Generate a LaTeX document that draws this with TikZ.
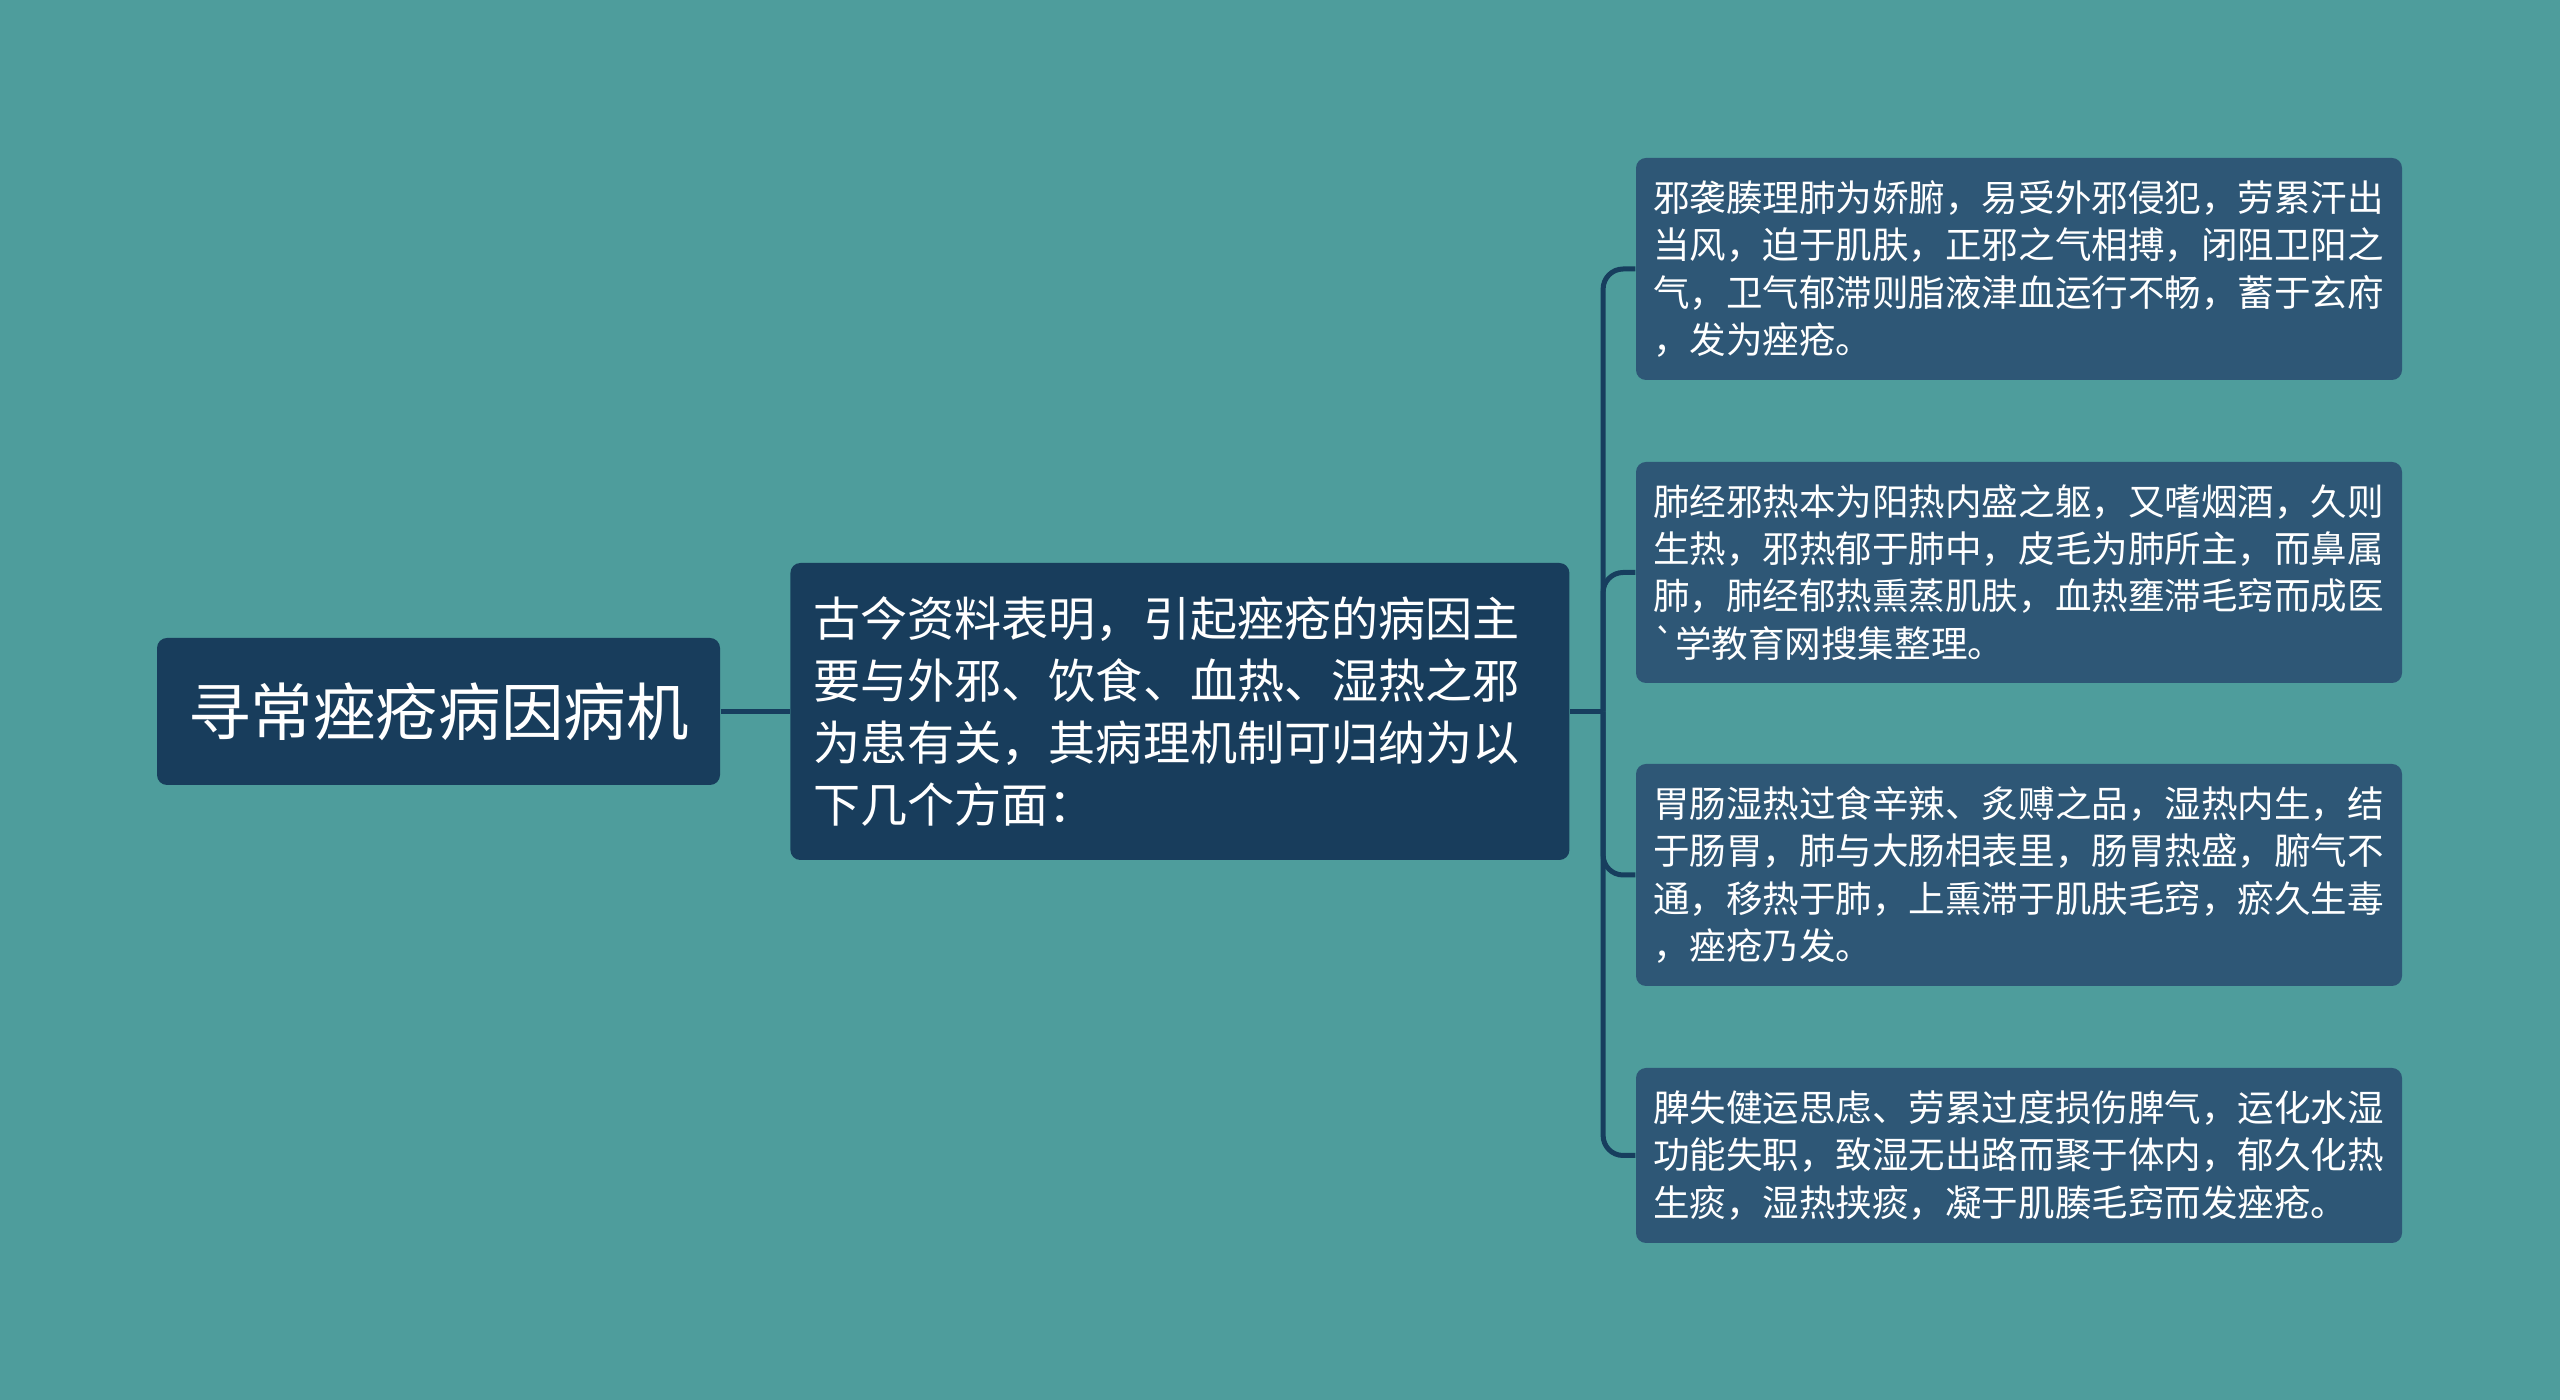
\documentclass[tikz,border=0pt]{standalone}
\usepackage{fontspec}
\setmainfont{Noto Sans CJK SC}
\usetikzlibrary{positioning}
\definecolor{bgteal}{HTML}{4E9D9C}
\definecolor{darknavy}{HTML}{183D5C}
\definecolor{leafblue}{HTML}{2E5776}
\definecolor{linenavy}{HTML}{173E5E}
\begin{document}
\begin{tikzpicture}[link/.style={draw=linenavy,line width=0.05cm},
  root node/.style={fill=darknavy,text=white,rounded corners=0.1cm,minimum width=5.63cm,minimum height=1.47cm,font=\fontsize{17.8}{21}\selectfont},
  mid node/.style={fill=darknavy,text=white,rounded corners=0.1cm,align=left,text width=7.33cm,inner xsep=0.23cm,minimum height=2.97cm,font=\fontsize{13.4}{17.6}\selectfont},
  leaf node/.style={fill=leafblue,text=white,rounded corners=0.1cm,align=left,text width=7.32cm,inner xsep=0.17cm,font=\fontsize{10.4}{13.4}\selectfont}]

  \fill[bgteal] (0,0) rectangle (25.6,14);

  \node[root node] (root) at (4.385,6.885) {寻常痤疮病因病机};
  \node[mid node] (mid) [right=0.69cm of root] {古今资料表明，引起痤疮的病因主\\要与外邪、饮食、血热、湿热之邪\\为患有关，其病理机制可归纳为以\\下几个方面：};

  \node[leaf node,minimum height=2.22cm] (waixie) at (20.19,11.31) {邪袭腠理肺为娇腑，易受外邪侵犯，劳累汗出\\当风，迫于肌肤，正邪之气相搏，闭阻卫阳之\\气，卫气郁滞则脂液津血运行不畅，蓄于玄府\\，发为痤疮。};
  \node[leaf node,minimum height=2.21cm] (feijing) at (20.19,8.275) {肺经邪热本为阳热内盛之躯，又嗜烟酒，久则\\生热，邪热郁于肺中，皮毛为肺所主，而鼻属\\肺，肺经郁热熏蒸肌肤，血热壅滞毛窍而成医\\\textasciigrave 学教育网搜集整理。};
  \node[leaf node,minimum height=2.22cm] (weichang) at (20.19,5.25) {胃肠湿热过食辛辣、炙赙之品，湿热内生，结\\于肠胃，肺与大肠相表里，肠胃热盛，腑气不\\通，移热于肺，上熏滞于肌肤毛窍，瘀久生毒\\，痤疮乃发。};
  \node[leaf node,minimum height=1.75cm] (pishi) at (20.19,2.445) {脾失健运思虑、劳累过度损伤脾气，运化水湿\\功能失职，致湿无出路而聚于体内，郁久化热\\生痰，湿热挟痰，凝于肌腠毛窍而发痤疮。};

  \coordinate[right=0.33cm of mid.east] (fork);
  \draw[link] (root.east) -- (mid.west);
  \draw[link] (mid.east) -- (fork);
  \foreach \n in {waixie,feijing,weichang,pishi}
    \draw[link,rounded corners=0.2cm] (fork) |- (\n.west);
\end{tikzpicture}
\end{document}
